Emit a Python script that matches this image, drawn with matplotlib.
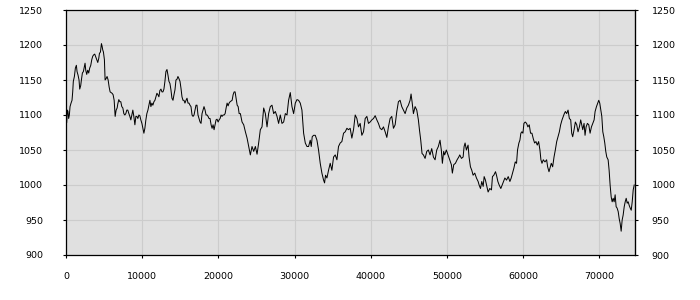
import matplotlib
matplotlib.use("Agg")
import matplotlib.pyplot as plt

# x positions in thousands of units
t_k_a = [0.00, 0.09, 0.18, 0.26, 0.35, 0.44, 0.53, 0.66, 0.79, 0.88, 0.96, 1.10, 1.23, 1.36, 1.45, 1.58,
         1.71, 1.80, 1.93, 2.02, 2.15, 2.28, 2.41, 2.50, 2.59, 2.72, 2.85, 2.98, 3.11, 3.25, 3.38, 3.51,
         3.64, 3.77, 3.90, 4.04, 4.17, 4.30, 4.39, 4.52, 4.65, 4.74, 4.82, 4.91, 5.04, 5.13, 5.26, 5.39,
         5.53, 5.66, 5.79, 5.92, 6.05, 6.18, 6.32, 6.45, 6.58, 6.71, 6.80, 6.93, 7.06, 7.19, 7.32, 7.46,
         7.59, 7.72, 7.85, 7.98, 8.11, 8.25, 8.38, 8.51, 8.64, 8.77, 8.90, 9.04, 9.17, 9.30, 9.43, 9.56,
         9.69, 9.82, 9.96, 10.09, 10.22, 10.35, 10.48, 10.61, 10.75, 10.88, 11.01, 11.14, 11.27, 11.40,
         11.54, 11.67, 11.80, 11.93, 12.06, 12.19, 12.32, 12.46, 12.59, 12.72, 12.85, 12.98, 13.11, 13.25,
         13.38, 13.51, 13.64, 13.77, 13.90, 14.04, 14.17, 14.30, 14.43, 14.56, 14.69, 14.82, 14.96, 15.09,
         15.22, 15.35, 15.48, 15.61, 15.75, 15.88, 16.01, 16.14, 16.27, 16.40, 16.54, 16.67, 16.80, 16.93,
         17.06, 17.19, 17.32, 17.46, 17.59, 17.72, 17.85, 17.98, 18.11, 18.25, 18.38, 18.51, 18.64, 18.77,
         18.90, 19.04, 19.17, 19.30, 19.43, 19.56, 19.69, 19.82, 19.96, 20.09, 20.22, 20.35, 20.48, 20.61,
         20.75, 20.88, 21.01, 21.14, 21.27, 21.40, 21.54, 21.67, 21.80, 21.93, 22.06, 22.19, 22.32, 22.46,
         22.59, 22.72]
level_a = [1100, 1089, 1107, 1105, 1095, 1100, 1112, 1117, 1121, 1133, 1148, 1155, 1167, 1171, 1162, 1157,
           1150, 1137, 1142, 1150, 1160, 1162, 1169, 1174, 1164, 1158, 1164, 1160, 1167, 1171, 1179, 1184,
           1186, 1187, 1183, 1179, 1175, 1181, 1188, 1190, 1202, 1198, 1193, 1190, 1179, 1150, 1152, 1155,
           1150, 1140, 1133, 1132, 1131, 1129, 1121, 1098, 1107, 1110, 1116, 1122, 1119, 1119, 1112, 1110,
           1102, 1100, 1102, 1107, 1107, 1102, 1098, 1093, 1100, 1107, 1098, 1086, 1098, 1098, 1095, 1100,
           1099, 1093, 1088, 1081, 1074, 1081, 1093, 1102, 1107, 1114, 1121, 1112, 1117, 1114,
           1119, 1121, 1126, 1131, 1129, 1126, 1135, 1137, 1133, 1133, 1137, 1148, 1162, 1165,
           1157, 1148, 1145, 1136, 1124, 1121, 1129, 1136, 1150, 1151, 1155, 1152, 1148, 1138,
           1126, 1121, 1121, 1117, 1121, 1124, 1117, 1117, 1114, 1112, 1100, 1098, 1100, 1107,
           1114, 1114, 1100, 1095, 1090, 1088, 1102, 1107, 1112, 1107, 1100, 1100, 1098, 1095,
           1095, 1086, 1081, 1086, 1079, 1086, 1093, 1094, 1090, 1093, 1095, 1100, 1098, 1100,
           1100, 1102, 1110, 1117, 1113, 1117, 1119, 1120, 1121, 1129, 1133, 1133, 1124, 1114,
           1112, 1102]

t_k_b = [22.88, 23.10, 23.32, 23.54, 23.76, 23.97, 24.19, 24.41, 24.63, 24.85, 25.07, 25.28, 25.50, 25.72,
         25.94, 26.16, 26.38, 26.59, 26.81, 27.03, 27.25, 27.47, 27.69, 27.90, 28.12, 28.34, 28.56, 28.78,
         29.00, 29.21, 29.43, 29.65, 29.87, 30.09, 30.31, 30.52, 30.74, 30.96, 31.18, 31.40, 31.62, 31.83,
         32.05, 32.18, 32.31, 32.49, 32.71, 32.93, 33.14, 33.36, 33.58, 33.80, 33.93, 34.06, 34.24, 34.45,
         34.67, 34.89, 35.11, 35.33, 35.55, 35.76, 35.98, 36.20, 36.42, 36.64, 36.86, 37.07, 37.29, 37.51,
         37.73, 37.95, 38.17, 38.38, 38.60, 38.82, 39.04, 39.26, 39.48, 39.69, 39.91, 40.13, 40.35, 40.57,
         40.79, 41.00, 41.22, 41.44, 41.66, 41.88, 42.10, 42.31, 42.53, 42.75, 42.97, 43.19, 43.41, 43.62,
         43.84, 44.06, 44.28, 44.50, 44.72, 44.93, 45.15, 45.28, 45.41, 45.59, 45.81, 46.03, 46.24, 46.38,
         46.55, 46.72, 46.90, 47.12, 47.34, 47.55, 47.77, 47.99, 48.21, 48.43, 48.65, 48.86, 49.08]
level_b = [1102, 1090, 1086, 1076, 1067, 1055, 1043, 1055, 1048, 1055, 1044, 1060, 1079, 1083,
           1110, 1102, 1083, 1102, 1112, 1114, 1102, 1105, 1098, 1088, 1100, 1088, 1090, 1102,
           1100, 1121, 1132, 1112, 1102, 1117, 1122, 1121, 1117, 1107, 1074, 1060, 1055, 1055,
           1064, 1055, 1069, 1071, 1071, 1064, 1050, 1031, 1017, 1007, 1003, 1014, 1010, 1021,
           1031, 1021, 1040, 1043, 1036, 1055, 1060, 1062, 1074, 1076, 1081, 1079, 1081, 1067,
           1079, 1100, 1095, 1083, 1088, 1071, 1076, 1095, 1098, 1088, 1090, 1093, 1095, 1099,
           1093, 1088, 1081, 1079, 1083, 1076, 1068, 1083, 1095, 1098, 1081, 1086, 1105, 1119,
           1121, 1112, 1107, 1102, 1110, 1114, 1121, 1130, 1119, 1102, 1112, 1107, 1093, 1079,
           1064, 1045, 1043, 1038, 1048, 1050, 1043, 1052, 1040, 1036, 1050, 1055, 1064]

t_k_c = [49.25, 49.39, 49.56, 49.69, 49.91, 50.13, 50.35, 50.57, 50.70, 50.88, 51.10, 51.32, 51.54, 51.67,
         51.89, 52.11, 52.24, 52.37, 52.54, 52.76, 52.89, 53.07, 53.25, 53.42, 53.64, 53.86, 54.08, 54.21,
         54.39, 54.56, 54.74, 54.87, 55.04, 55.18, 55.39, 55.61, 55.83, 55.96, 56.14, 56.36, 56.49, 56.67,
         56.84, 57.06, 57.24, 57.41, 57.59, 57.81, 58.03, 58.25, 58.42, 58.60, 58.77, 58.95, 59.12, 59.25,
         59.43, 59.56, 59.69, 59.82, 59.96, 60.09, 60.26, 60.44, 60.61, 60.79, 60.96, 61.14, 61.32, 61.49,
         61.67, 61.84, 62.02, 62.19, 62.32, 62.46, 62.63, 62.85, 63.07, 63.20, 63.38, 63.51, 63.68, 63.86,
         64.04, 64.21, 64.39, 64.56, 64.74, 64.91, 65.09, 65.26, 65.39, 65.53, 65.70, 65.88, 66.05, 66.23,
         66.36, 66.49, 66.67, 66.84, 67.02, 67.19, 67.37, 67.54, 67.68, 67.81, 67.98, 68.11, 68.25, 68.42,
         68.60, 68.77, 68.95, 69.12, 69.30, 69.43, 69.61, 69.78, 69.91, 70.04, 70.18, 70.31, 70.44, 70.57,
         70.70, 70.83, 70.96, 71.14, 71.27, 71.40, 71.54, 71.67, 71.80, 71.93, 72.06, 72.19, 72.32, 72.46,
         72.59, 72.72, 72.85, 72.98, 73.11, 73.25, 73.38, 73.51, 73.64, 73.77, 73.90, 74.04, 74.17, 74.30,
         74.43, 74.56]
level_c = [1050, 1031, 1048, 1043, 1050, 1043, 1036, 1029, 1017, 1029, 1031, 1036, 1040, 1043,
           1038, 1040, 1055, 1060, 1050, 1057, 1040, 1026, 1021, 1014, 1017, 1010, 1005, 1000,
           995, 1005, 998, 1012, 1007, 1000, 990, 995, 993, 1012, 1014, 1019, 1014, 1005,
           1000, 995, 1000, 1005, 1010, 1007, 1012, 1005, 1010, 1017, 1024, 1033, 1031, 1050,
           1060, 1064, 1074, 1076, 1074, 1088, 1090, 1088, 1083, 1086, 1074, 1074, 1066, 1060,
           1062, 1057, 1062, 1050, 1036, 1031, 1036, 1033, 1036, 1026, 1019, 1024, 1031, 1026,
           1040, 1050, 1062, 1069, 1076, 1086, 1093, 1098, 1102, 1105, 1102, 1107, 1095, 1093,
           1074, 1069, 1079, 1090, 1086, 1076, 1083, 1093, 1086, 1079, 1088, 1071, 1083, 1088,
           1086, 1074, 1083, 1088, 1093, 1105, 1112, 1117, 1121, 1117, 1107, 1098, 1076, 1069,
           1060, 1048, 1040, 1036, 1021, 1000, 983, 976, 981, 976, 986, 969, 967, 962,
           952, 945, 934, 950, 957, 969, 976, 981, 974, 976, 971, 967, 964, 976,
           993, 1000]

x_ticks = [0, 10000, 20000, 30000, 40000, 50000, 60000, 70000]
y_ticks = [900, 950, 1000, 1050, 1100, 1150, 1200, 1250]

t_k = t_k_a + t_k_b + t_k_c
level = level_a + level_b + level_c
x_vals = [v * 1000 for v in t_k]

fig = plt.figure(figsize=(7, 3), dpi=100)
ax = fig.add_axes([66 / 700, 45 / 300, 568.5 / 700, 245 / 300])
ax.set_facecolor("#e0e0e0")
ax.plot(x_vals, level, color="black", linewidth=0.72)

ax.set_xlim(0, 74600)
ax.set_ylim(900, 1250)
ax.set_xticks(x_ticks)
ax.set_yticks(y_ticks)
ax.grid(True, color="#cccccc", linewidth=0.8)
ax.set_axisbelow(True)
for s in ax.spines.values():
    s.set_color("black")
    s.set_linewidth(0.9)

ax.tick_params(axis="x", direction="out", length=2.5, width=0.8, pad=9.5, labelsize=6.8)
ax.tick_params(axis="y", direction="out", length=2.5, width=0.8, pad=14, labelsize=6.8)

ax2 = ax.secondary_yaxis("right")
ax2.set_yticks(y_ticks)
ax2.tick_params(direction="out", length=2.5, width=0.8, pad=10, labelsize=6.8)

fig.savefig("out.png", dpi=100)
